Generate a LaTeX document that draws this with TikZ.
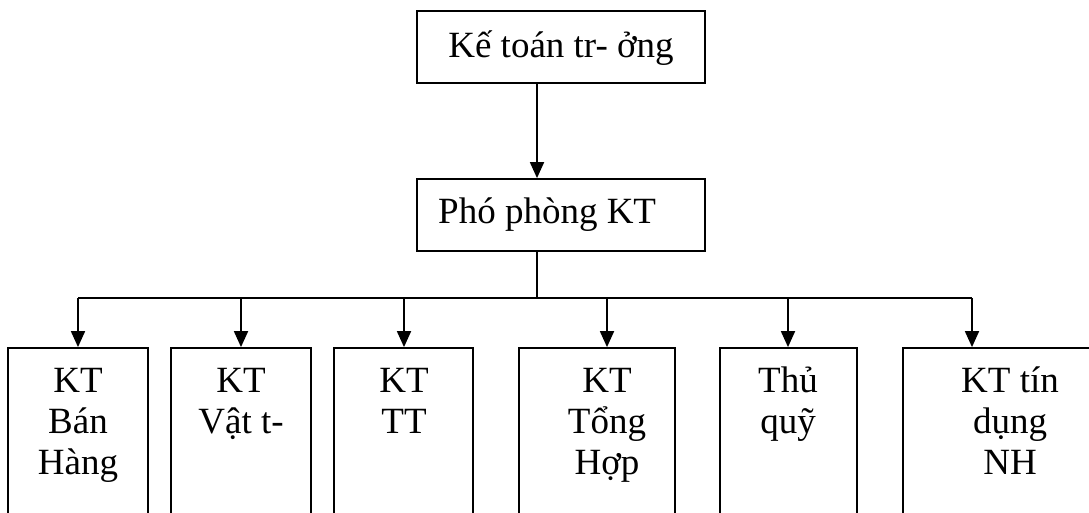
\documentclass[tikz,border=0pt]{standalone}
\usepackage{fontspec}
\setmainfont{Liberation Serif}
\usetikzlibrary{arrows.meta}
\newcommand{\firstline}{\rule{0pt}{30pt}}
\setlength{\lineskiplimit}{-100pt}
\tikzset{
  box/.style={draw, line width=1.8pt, rectangle, inner sep=0pt},
  txt/.style={font=\fontsize{37}{41}\selectfont, inner sep=0pt},
  stack/.style={txt, align=center, anchor=north},
  link/.style={line width=1.8pt},
  arr/.style={link, -{Triangle[length=16pt,width=14pt]}}
}
\begin{document}
\begin{tikzpicture}[x=1pt,y=-1pt]
  \useasboundingbox (0,0) rectangle (1089,512);
  \clip (0,0) rectangle (1089,512);

  % upper boxes
  \node[box, minimum width=288pt, minimum height=72pt] (head) at (561,47) {};
  \node[txt, anchor=base] (headtxt) at (561,57) {Kế toán tr- ởng};
  \node[box, minimum width=288pt, minimum height=72pt] (deputy) at (561,215) {};
  \node[txt, anchor=base west] (deputytxt) at (438,223) {Phó phòng KT};

  % lower row of boxes (open below the page edge)
  \node[box, minimum width=140pt, minimum height=212pt] (b1) at (78,454) {};
  \node[box, minimum width=140pt, minimum height=212pt] (b2) at (241,454) {};
  \node[box, minimum width=139pt, minimum height=212pt] (b3) at (403.5,454) {};
  \node[box, minimum width=156pt, minimum height=212pt] (b4) at (597,454) {};
  \node[box, minimum width=137pt, minimum height=212pt] (b5) at (788.5,454) {};
  \node[box, minimum width=214pt, minimum height=212pt] (b6) at (1010,454) {};

  \node[stack] (t1) at (78,362) {\firstline KT\\Bán\\Hàng};
  \node[stack] (t2) at (241,362) {\firstline KT\\Vật t-};
  \node[stack] (t3) at (404,362) {\firstline KT\\TT};
  \node[stack] (t4) at (607,362) {\firstline KT\\Tổng\\Hợp};
  \node[stack] (t5) at (788,362) {\firstline Thủ\\quỹ};
  \node[stack] (t6) at (1010,362) {\firstline KT tín\\dụng\\NH};

  % connectors
  \coordinate (top) at (537,0);
  \draw[arr] (top |- head.south) -- (top |- deputy.north);

  \coordinate (bus) at (537,298);
  \coordinate (p1) at (78,298);
  \coordinate (p2) at (241,298);
  \coordinate (p3) at (404,298);
  \coordinate (p4) at (607,298);
  \coordinate (p5) at (788,298);
  \coordinate (p6) at (972,298);
  \draw[link] (top |- deputy.south) -- (bus);
  \draw[link] (p1) -- (p6);
  \draw[arr] (p1) -- (p1 |- b1.north);
  \draw[arr] (p2) -- (p2 |- b2.north);
  \draw[arr] (p3) -- (p3 |- b3.north);
  \draw[arr] (p4) -- (p4 |- b4.north);
  \draw[arr] (p5) -- (p5 |- b5.north);
  \draw[arr] (p6) -- (p6 |- b6.north);
\end{tikzpicture}
\end{document}
